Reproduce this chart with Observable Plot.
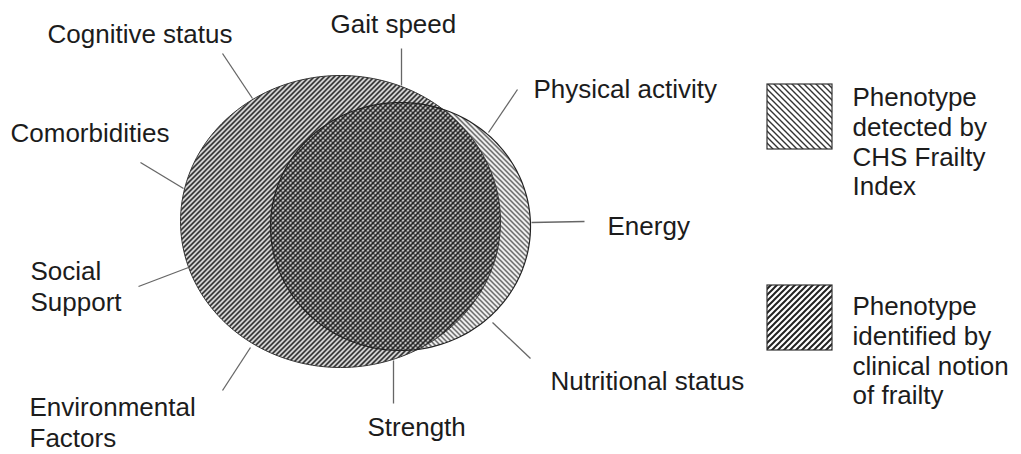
<!DOCTYPE html>
<html>
<head>
<meta charset="utf-8">
<script src="https://cdn.jsdelivr.net/npm/d3@7"></script>
<script src="https://cdn.jsdelivr.net/npm/@observablehq/plot@0.6"></script>
<style>
  html, body { margin: 0; padding: 0; background: #fff; }
</style>
</head>
<body>
<div id="chart"></div>
<script>
// ---- Data (diagram units = pixels of the 1021x454 canvas) ----
const W = 1021, H = 454;

// The two overlapping phenotype sets (ellipses)
const setNames = ["clinical", "chs"];
const setCx = [340, 400];
const setCy = [221, 226];
const setRx = [160, 130];
const setRy = [146, 124];

// Frailty factor labels around the diagram
const factorLabels = ["Cognitive status", "Gait speed", "Comorbidities", "Physical activity", "Energy",
  "Social\nSupport", "Nutritional status", "Environmental\nFactors", "Strength"];
const labelX = [47, 330, 10, 533, 607, 30, 550, 29, 367];
const labelY = [20, 10, 119, 75, 212, 257, 367, 393, 413];

// Leader lines (label end -> diagram edge)
const leaderX1 = [222, 401, 140, 517, 584, 138, 530, 222, 393];
const leaderY1 = [53, 48, 162, 89, 221, 286, 358, 390, 403];
const leaderX2 = [252, 401, 183, 488, 531, 188, 492, 250, 393];
const leaderY2 = [98, 85, 188, 132, 222, 267, 322, 347, 360];

// Legend
const legendText = ["Phenotype\ndetected by\nCHS Frailty\nIndex", "Phenotype\nidentified by\nclinical notion\nof frailty"];
const legendPattern = ["legBack", "legFwd"];
const legendBoxX1 = [767, 767];
const legendBoxX2 = [832, 832];
const legendBoxY1 = [84, 285];
const legendBoxY2 = [149, 350];
const legendTextX = [852, 852];
const legendTextY = [84, 293];

// ---- Build ellipse outlines from centre/radii ----
function ellipsePoints(i) {
  return d3.range(0, 360, 2).map(a => {
    const t = a * Math.PI / 180;
    return {set: setNames[i], x: setCx[i] + setRx[i] * Math.cos(t), y: setCy[i] + setRy[i] * Math.sin(t)};
  });
}
const clinicalPts = ellipsePoints(0);
const chsPts = ellipsePoints(1);

// ---- SVG pattern definitions as a custom mark ----
function patternDefs() {
  const g = d3.create("svg:g");
  const defs = g.append("defs");
  function hatch(id, size, forward, width, color) {
    const p = defs.append("pattern")
      .attr("id", id)
      .attr("patternUnits", "userSpaceOnUse")
      .attr("width", size).attr("height", size);
    const s = size;
    const d = forward
      ? `M${-1},${1} L${1},${-1} M0,${s} L${s},0 M${s - 1},${s + 1} L${s + 1},${s - 1}`
      : `M${-1},${s - 1} L${1},${s + 1} M0,0 L${s},${s} M${s - 1},${-1} L${s + 1},${1}`;
    p.append("path").attr("d", d).attr("stroke", color).attr("stroke-width", width).attr("fill", "none");
  }
  hatch("hatchFwd", 5, true, 1.8, "#111");
  hatch("hatchBack", 5, false, 1.2, "#1a1a1a");
  hatch("legFwd", 6, true, 2.0, "#222");
  hatch("legBack", 6, false, 1.4, "#333");
  return g.node();
}

const chart = Plot.plot({
  width: W,
  height: H,
  margin: 0,
  x: {domain: [0, W], range: [0, W], axis: null},
  y: {domain: [0, H], range: [0, H], axis: null},
  style: {fontFamily: "'Liberation Sans', Arial, sans-serif", background: "#fff"},
  marks: [
    patternDefs,
    // CHS set (\\\ hatching)
    Plot.line(chsPts, {x: "x", y: "y", curve: "linear-closed", fill: "url(#hatchBack)", stroke: "none"}),
    // Clinical set (/// hatching) drawn on top -> crosshatch in the overlap
    Plot.line(clinicalPts, {x: "x", y: "y", curve: "linear-closed", fill: "url(#hatchFwd)", stroke: "none"}),
    // Outlines
    Plot.line(clinicalPts, {x: "x", y: "y", curve: "linear-closed", stroke: "#333", strokeWidth: 1}),
    Plot.line(chsPts, {x: "x", y: "y", curve: "linear-closed", stroke: "#222", strokeWidth: 1.2}),
    // Leader lines
    Plot.link(factorLabels, {
      x1: (d, i) => leaderX1[i], y1: (d, i) => leaderY1[i],
      x2: (d, i) => leaderX2[i], y2: (d, i) => leaderY2[i],
      stroke: "#666", strokeWidth: 1.3
    }),
    // Factor labels
    Plot.text(factorLabels, {
      x: (d, i) => labelX[i], y: (d, i) => labelY[i], text: d => d,
      textAnchor: "start", lineAnchor: "top", fontSize: 26, lineHeight: 1.2, fill: "#1c1c1c"
    }),
    // Legend swatches
    Plot.rect(legendText, {
      x1: (d, i) => legendBoxX1[i], x2: (d, i) => legendBoxX2[i],
      y1: (d, i) => legendBoxY1[i], y2: (d, i) => legendBoxY2[i],
      fill: (d, i) => `url(#${legendPattern[i]})`, stroke: "#333", strokeWidth: 1.2
    }),
    // Legend text
    Plot.text(legendText, {
      x: (d, i) => legendTextX[i], y: (d, i) => legendTextY[i], text: d => d,
      textAnchor: "start", lineAnchor: "top", fontSize: 26, lineHeight: 1.15, fill: "#1c1c1c"
    })
  ]
});

document.getElementById("chart").appendChild(chart);
</script>
</body>
</html>
